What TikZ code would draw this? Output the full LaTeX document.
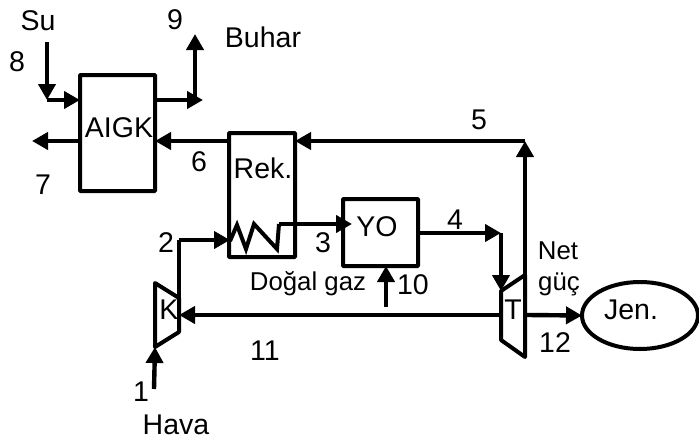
\documentclass[tikz,border=0pt]{standalone}
\usepackage{fontspec}
\setmainfont{Liberation Sans}
\usetikzlibrary{arrows.meta,calc,shapes.geometric}
\tikzset{
  unit/.style={draw=black,line width=4pt,rectangle,outer sep=0pt,inner sep=0pt,rounded corners=0.8pt},
  flow/.style={line width=4.4pt,black,-{Triangle[length=16pt,width=17pt]},line join=miter},
  plain/.style={line width=4.4pt,black,line join=miter},
  shell/.style={line width=4pt,black,line join=round},
  coil/.style={line width=4pt,black,line join=miter},
  lab/.style={inner sep=0pt,font=\fontsize{28.5}{30}\selectfont},
  labt/.style={inner sep=0pt,font=\fontsize{25.8}{28}\selectfont}
}
\begin{document}
\begin{tikzpicture}[x=1pt,y=-1pt]
\useasboundingbox (0,0) rectangle (699,439);
\fill[white] (0,0) rectangle (699,439);
% units
\node[unit,minimum width=75pt,minimum height=116pt] (aigk) at (117.5,133) {};
\node[unit,minimum width=66pt,minimum height=124pt] (rek) at (262,195) {};
\node[unit,minimum width=75pt,minimum height=67pt] (yo) at (380.5,232.5) {};
\node[draw=black,line width=4pt,ellipse,outer sep=0pt,inner sep=0pt,minimum width=116pt,minimum height=67pt] (jen) at (640,315.5) {};
% turbine / compressor outlines
\coordinate (ka) at (155,283); \coordinate (kb) at (179,298);
\coordinate (kc) at (179,332); \coordinate (kd) at (155,347);
\draw[shell] (ka) -- (kb) -- (kc) -- (kd) -- cycle;
\coordinate (ta) at (501,291); \coordinate (tb) at (525,275);
\coordinate (tc) at (525,357); \coordinate (td) at (501,340);
\draw[shell] (ta) -- (tb) -- (tc) -- (td) -- cycle;
% junctions
\coordinate (suS) at (47,42); \coordinate (suC) at (47,100);
\coordinate (auxR) at (203,100); \coordinate (buC) at (195,100); \coordinate (buE) at (195,34);
\coordinate (ex7) at (32,141);
\coordinate (rekIn) at (295,141); \coordinate (rekOut) at (229,141);
\coordinate (aigkE6) at (155,141); \coordinate (corner5) at (525,141);
\coordinate (c2) at (179,240); \coordinate (coilA) at (230,241);
\coordinate (c4) at (501,233); \coordinate (air) at (154,389); \coordinate (fuel) at (386,307);
\coordinate (shaftK) at (179,315); \coordinate (shaftT) at (501,315);
\coordinate (netS) at (527,315);
% flows
\draw[flow] (suS) -- (suC);
\draw[flow] (suC) -- (aigk.west |- suC);
\draw[flow] (aigk.east |- suC) -- (auxR);
\draw[flow] (buC) -- (buE);
\draw[flow] (rekOut) -- (aigkE6);
\draw[flow] (aigk.west |- ex7) -- (ex7);
\draw[flow] (tb) -- (corner5);
\draw[flow] (corner5) -- (rekIn);
\draw[plain] (kb) -- (c2);
\draw[flow] (c2) -- (coilA |- c2);
\draw[coil] (coilA) -- (237,225) -- (246,249) -- (254,224) -- (277,249) -- (279,224);
\draw[flow] (279,224) -- (352,224);
\draw[flow] (yo.east |- c4) -- (c4);
\draw[flow] (c4) -- (ta);
\draw[flow] (fuel) -- (yo.south -| fuel);
\draw[flow] (shaftT) -- (shaftK);
\draw[flow] (netS) -- (jen.west);
\draw[flow] (air) -- (kd);
% labels
\node[lab] (tSu) at (38,21) {Su};
\node[lab] (t8) at (17,62) {8};
\node[lab] (t9) at (175,20) {9};
\node[lab] (tBu) at (263,37) {Buhar};
\node[lab] (tA) at (119,128) {AIGK};
\node[lab] (t7) at (43,185) {7};
\node[lab] (t6) at (199,162) {6};
\node[lab] (tR) at (263,168) {Rek.};
\node[lab] (t2) at (166,243) {2};
\node[lab] (t3) at (323,243) {3};
\node[lab] (tY) at (377,227) {YO};
\node[labt] (tD) at (308,284) {Doğal gaz};
\node[lab] (t10) at (413,285) {10};
\node[lab] (tK) at (169,310) {K};
\node[lab] (t11) at (265,351) {11};
\node[lab] (t5) at (479,120) {5};
\node[lab] (t4) at (455,220) {4};
\node[labt] (tN) at (558,251) {Net};
\node[labt] (tG) at (559,284) {güç};
\node[lab] (tT) at (513,310) {T};
\node[lab] (tJ) at (631,310) {Jen.};
\node[lab] (t12) at (555,343) {12};
\node[lab] (t1) at (141,392) {1};
\node[lab] (tH) at (176,425) {Hava};
\end{tikzpicture}
\end{document}
